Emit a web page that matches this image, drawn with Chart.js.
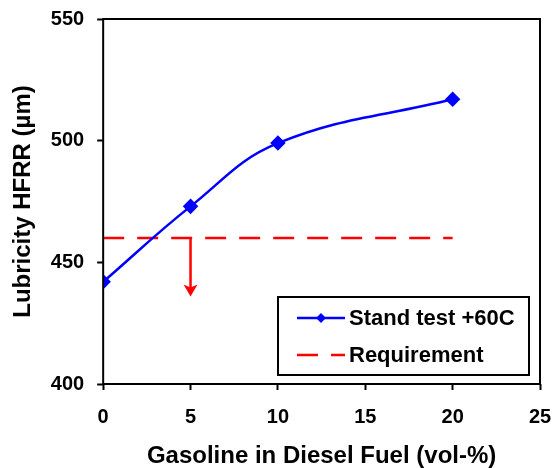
<!DOCTYPE html>
<html>
<head>
<meta charset="utf-8">
<script src="https://cdn.jsdelivr.net/npm/chart.js@4.4.1/dist/chart.umd.min.js"></script>
<style>
    html, body { margin: 0; padding: 0; background: #fff; }
    #wrap { width: 554px; height: 468px; }
</style>
</head>
<body>
<div id="wrap"><canvas id="lubChart"></canvas></div>
<script>
// data
const gasoline = [0, 5, 10, 20];
const hfrr = [442, 473, 499, 517];
const reqX = [0, 20];
const reqY = [460, 460];
const arrowX = 5;
const arrowFrom = 460;
const arrowTo = 436;
const xTicks = [0, 5, 10, 15, 20, 25];
const yTicks = [400, 450, 500, 550];

const FONT = '"Liberation Sans", Arial, sans-serif';

// frame round the plot area
const frame = {
    id: 'frame',
    afterDraw(chart) {
        const a = chart.chartArea;
        const ctx = chart.ctx;
        ctx.save();
        ctx.strokeStyle = '#000';
        ctx.lineWidth = 2;
        ctx.strokeRect(a.left, a.top, a.right - a.left, a.bottom - a.top);
        ctx.restore();
    }
};

// arrow under the requirement line
const reqArrow = {
    id: 'reqArrow',
    afterDatasetsDraw(chart) {
        const xs = chart.scales.x, ys = chart.scales.y;
        const x = xs.getPixelForValue(arrowX);
        const y0 = ys.getPixelForValue(arrowFrom);
        const y1 = ys.getPixelForValue(arrowTo);
        const ctx = chart.ctx;
        ctx.save();
        ctx.strokeStyle = '#ff0000';
        ctx.fillStyle = '#ff0000';
        ctx.lineWidth = 2.5;
        ctx.beginPath();
        ctx.moveTo(x, y0);
        ctx.lineTo(x, y1 - 8);
        ctx.stroke();
        ctx.beginPath();
        ctx.moveTo(x - 7, y1 - 12);
        ctx.lineTo(x, y1);
        ctx.lineTo(x + 7, y1 - 12);
        ctx.lineTo(x, y1 - 9);
        ctx.closePath();
        ctx.fill();
        ctx.restore();
    }
};

// legend box inside the plot, bottom right
const boxLegend = {
    id: 'boxLegend',
    afterDraw(chart) {
        const a = chart.chartArea;
        const ctx = chart.ctx;
        const w = 251, h = 78;
        const left = a.right - 11 - w;
        const top = a.bottom - 9 - h;
        ctx.save();
        ctx.fillStyle = '#fff';
        ctx.fillRect(left, top, w, h);
        ctx.strokeStyle = '#000';
        ctx.lineWidth = 2;
        ctx.strokeRect(left, top, w, h);

        const sx0 = left + 19, sx1 = left + 67;
        const rows = [top + 21, top + 58];
        chart.data.datasets.forEach((ds, i) => {
            const y = rows[i];
            ctx.strokeStyle = ds.borderColor;
            ctx.lineWidth = ds.borderWidth;
            ctx.setLineDash(ds.borderDash || []);
            ctx.beginPath();
            ctx.moveTo(sx0, y);
            ctx.lineTo(sx1, y);
            ctx.stroke();
            ctx.setLineDash([]);
            if (ds.pointRadius) {
                const cx = (sx0 + sx1) / 2, r = 5;
                ctx.fillStyle = ds.borderColor;
                ctx.beginPath();
                ctx.moveTo(cx, y - r);
                ctx.lineTo(cx + r, y);
                ctx.lineTo(cx, y + r);
                ctx.lineTo(cx - r, y);
                ctx.closePath();
                ctx.fill();
            }
            ctx.fillStyle = '#000';
            ctx.font = 'bold 22px ' + FONT;
            ctx.textBaseline = 'middle';
            ctx.textAlign = 'left';
            ctx.fillText(ds.label, sx1 + 4, y + 1);
        });
        ctx.restore();
    }
};

const ctx = document.getElementById('lubChart').getContext('2d');
new Chart(ctx, {
    type: 'scatter',
    data: {
        datasets: [{
            label: 'Stand test +60C',
            data: gasoline.map((g, i) => ({x: g, y: hfrr[i]})),
            showLine: true,
            borderColor: '#0000ff',
            backgroundColor: '#0000ff',
            borderWidth: 2.5,
            tension: 0.4,
            pointStyle: 'rectRot',
            pointRadius: 6,
            pointHoverRadius: 6
        }, {
            label: 'Requirement',
            data: reqX.map((x, i) => ({x: x, y: reqY[i]})),
            showLine: true,
            borderColor: '#ff0000',
            backgroundColor: '#ff0000',
            borderWidth: 2.5,
            borderDash: [21, 13],
            pointRadius: 0
        }]
    },
    options: {
        responsive: true,
        maintainAspectRatio: false,
        animation: false,
        layout: {
            padding: {top: 19, right: 14, bottom: 0, left: 9}
        },
        plugins: {
            legend: {display: false},
            tooltip: {enabled: false}
        },
        scales: {
            x: {
                type: 'linear',
                min: 0,
                max: 25,
                afterBuildTicks: axis => { axis.ticks = xTicks.map(v => ({value: v})); },
                afterFit: axis => { axis.paddingRight = 0; axis.paddingLeft = 0; },
                border: {display: false},
                grid: {
                    drawOnChartArea: false,
                    drawTicks: true,
                    tickLength: 6,
                    tickWidth: 2,
                    color: '#000'
                },
                ticks: {
                    color: '#000',
                    padding: 15,
                    font: {family: FONT, size: 20, weight: 'bold'}
                },
                title: {
                    display: true,
                    text: 'Gasoline in Diesel Fuel (vol-%)',
                    color: '#000',
                    padding: {top: 0, bottom: 0},
                    font: {family: FONT, size: 24, weight: 'bold', lineHeight: 1}
                }
            },
            y: {
                min: 400,
                max: 550,
                afterBuildTicks: axis => { axis.ticks = yTicks.map(v => ({value: v})); },
                afterFit: axis => { axis.paddingTop = 0; axis.paddingBottom = 0; },
                border: {display: false},
                grid: {
                    drawOnChartArea: false,
                    drawTicks: true,
                    tickLength: 6,
                    tickWidth: 2,
                    color: '#000'
                },
                ticks: {
                    color: '#000',
                    padding: 13,
                    font: {family: FONT, size: 20, weight: 'bold'}
                },
                title: {
                    display: true,
                    text: 'Lubricity HFRR (µm)',
                    color: '#000',
                    padding: {top: 0, bottom: 0},
                    font: {family: FONT, size: 24, weight: 'bold'}
                }
            }
        }
    },
    plugins: [frame, reqArrow, boxLegend]
});
</script>
</body>
</html>
